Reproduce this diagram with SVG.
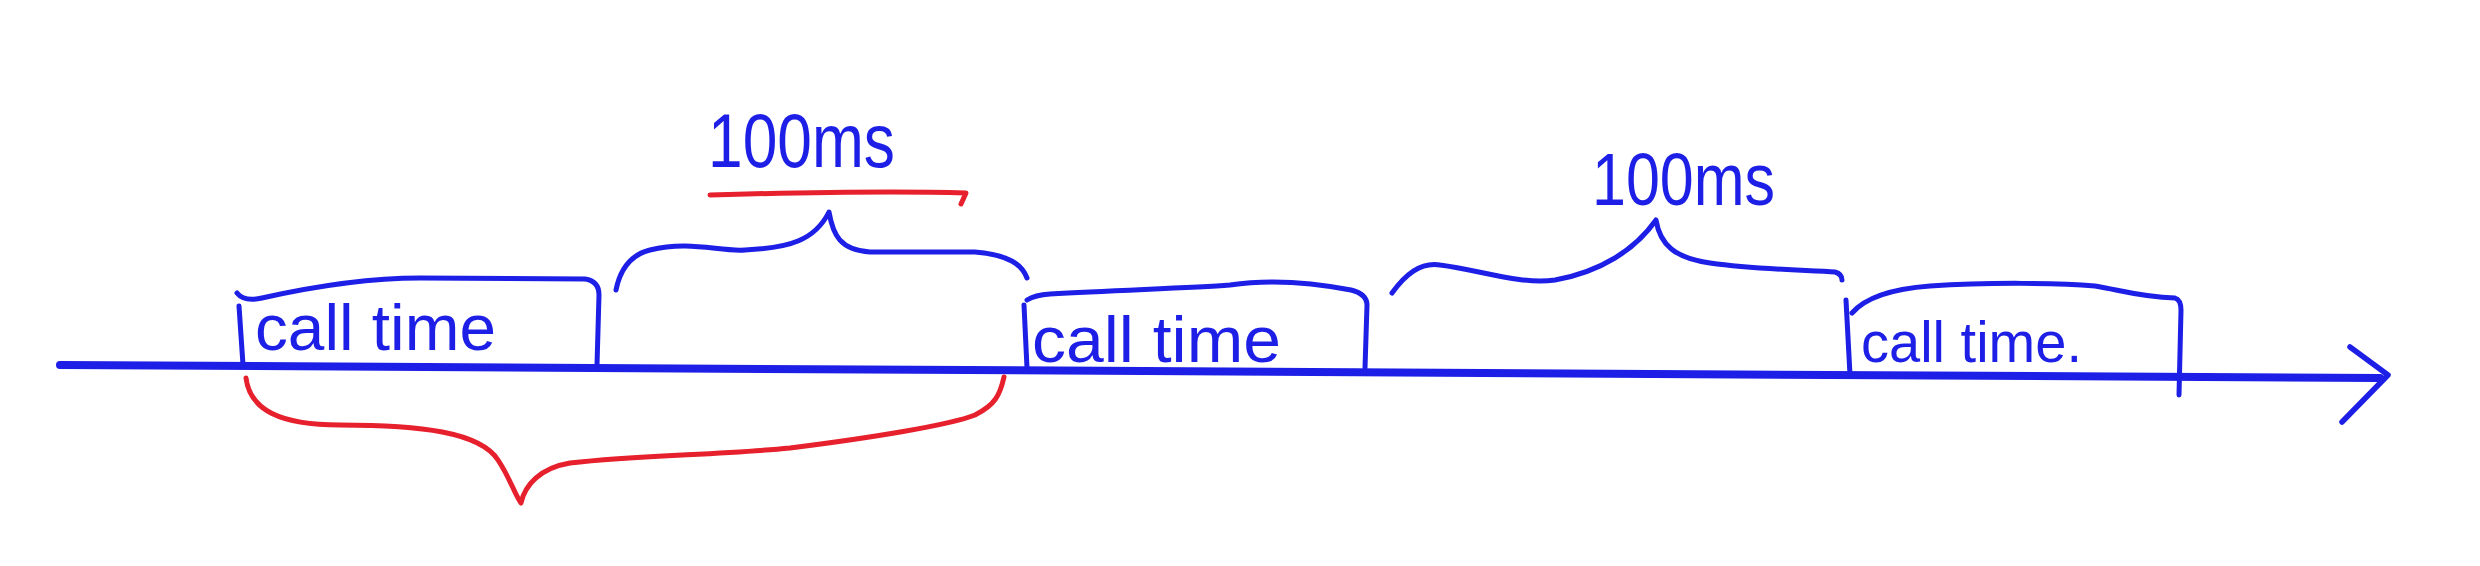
<svg xmlns="http://www.w3.org/2000/svg" width="2480" height="566" viewBox="0 0 2480 566">
<style>
.b{fill:none;stroke:#1d1fe6;stroke-width:5;stroke-linecap:round;stroke-linejoin:round}
.r{fill:none;stroke:#e6202c;stroke-width:5;stroke-linecap:round;stroke-linejoin:round}
.t{font-family:"Liberation Sans",Arial,sans-serif;fill:#1d1fe6}
</style>
<rect width="2480" height="566" fill="#ffffff"/>
<g id="connectors">
<path class="b" d="M60,365 L2380,378" style="stroke-width:8"/>
<path class="b" d="M2350,347 L2388,375 L2342,422" style="stroke-width:5.5"/>
<path class="b" d="M616,290 C620,270 630,255 650,250 C690,240 720,252 745,250 C790,248 815,240 829,212 C833,235 840,250 870,252 L975,252 C1010,255 1022,265 1027,278"/>
<path class="b" d="M1392,293 C1405,275 1420,262 1440,265 C1480,270 1520,285 1555,280 C1600,272 1635,250 1656,220 C1660,245 1675,258 1710,263 C1760,270 1810,270 1835,272 Q1842,274 1842,280"/>
<path class="r" d="M710,195 C780,193 900,191 966,193 L961,204"/>
<path class="r" d="M246,378 C250,410 280,425 340,425 C420,425 480,432 498,460 C510,478 515,495 521,503 C525,485 540,468 570,463 C640,455 720,455 790,448 C870,438 950,425 975,415 C995,405 1000,395 1004,377"/>
</g>
<g id="call1">
<path class="b" d="M237,293 Q244,302 262,298 C320,285 370,278 420,278 L585,279 Q599,281 599,295 L597,365"/>
<path class="b" d="M239,306 L243,365"/>
<text class="t" x="255" y="350" font-size="64" textLength="241" lengthAdjust="spacingAndGlyphs">call time</text>
</g>
<g id="call2">
<path class="b" d="M1027,300 Q1035,295 1050,294 C1120,290 1190,288 1230,285 C1270,279 1310,282 1351,290 Q1367,294 1367,305 L1365,368"/>
<path class="b" d="M1024,305 L1027,368"/>
<text class="t" x="1032" y="362" font-size="64" textLength="249" lengthAdjust="spacingAndGlyphs">call time</text>
</g>
<g id="call3">
<path class="b" d="M1852,313 C1865,298 1890,289 1930,286 C1990,282 2060,283 2095,286 C2120,290 2140,297 2175,298 Q2181,300 2181,310 L2179,395"/>
<path class="b" d="M1846,300 L1850,375"/>
<text class="t" x="1861" y="362" font-size="58" textLength="221" lengthAdjust="spacingAndGlyphs">call time.</text>
</g>
<g id="label1">
<text class="t" x="708" y="167" font-size="76" textLength="187" lengthAdjust="spacingAndGlyphs">100ms</text>
</g>
<g id="label2">
<text class="t" x="1592" y="205" font-size="74" textLength="183" lengthAdjust="spacingAndGlyphs">100ms</text>
</g>
</svg>
